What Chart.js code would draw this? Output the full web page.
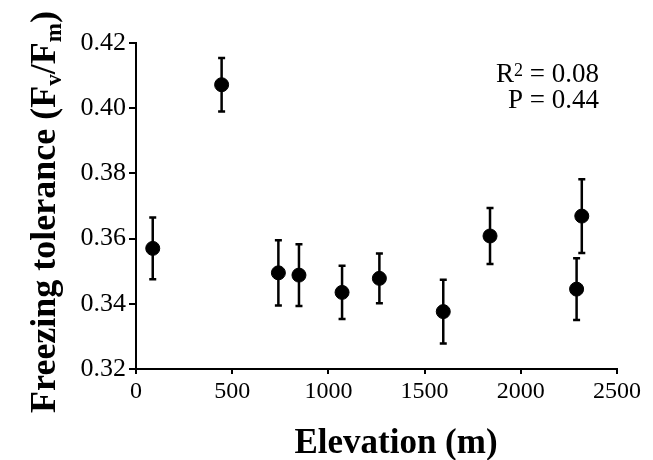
<!DOCTYPE html>
<html>
<head>
<meta charset="utf-8">
<script src="https://cdn.jsdelivr.net/npm/chart.js@4"></script>
<style>
  html, body { margin: 0; padding: 0; background: #fff; }
  #wrap { width: 653px; height: 460px; }
</style>
</head>
<body>
<div id="wrap"><canvas id="FreezeChart" width="653" height="460"></canvas></div>
<script>
// elevation (m), Fv/Fm mean and error (± bar half-length)
const elevation = [87, 445, 740, 847, 1071, 1265, 1597, 1840, 2290, 2317];
const fvfm      = [0.357, 0.4072, 0.3495, 0.3488, 0.3435, 0.3478, 0.3376, 0.3608, 0.3445, 0.3669];
const fvfmErr   = [0.0095, 0.0082, 0.0100, 0.0095, 0.0082, 0.0076, 0.0098, 0.0086, 0.0095, 0.0113];
const xTicks = [0, 500, 1000, 1500, 2000, 2500];
const yTicks = [0.32, 0.34, 0.36, 0.38, 0.40, 0.42];
const statLines = [["R", "2", " = 0.08"], ["P", "", " = 0.44"]];

const serif = "'Liberation Serif', 'Times New Roman', serif";

// error bars drawn from the data arrays through the chart scales
const errorBars = {
    id: "errorBars",
    beforeDatasetsDraw(chart) {
        let ctx = chart.ctx;
        let xs = chart.scales.x, ys = chart.scales.y;
        ctx.save();
        ctx.strokeStyle = "#000";
        ctx.lineWidth = 2.5;
        for (let i = 0; i < elevation.length; i++) {
            let px = xs.getPixelForValue(elevation[i]);
            let top = ys.getPixelForValue(fvfm[i] + fvfmErr[i]);
            let bot = ys.getPixelForValue(fvfm[i] - fvfmErr[i]);
            ctx.beginPath();
            ctx.moveTo(px, top); ctx.lineTo(px, bot);
            ctx.moveTo(px - 3.5, top); ctx.lineTo(px + 3.5, top);
            ctx.moveTo(px - 3.5, bot); ctx.lineTo(px + 3.5, bot);
            ctx.stroke();
        }
        ctx.restore();
    }
};

// axis titles with sub/superscripts and the statistics note
const labels = {
    id: "labels",
    afterDraw(chart) {
        let ctx = chart.ctx;
        ctx.save();
        ctx.fillStyle = "#000";

        // x title
        ctx.font = "bold 35px " + serif;
        ctx.textAlign = "center";
        ctx.textBaseline = "alphabetic";
        ctx.fillText("Elevation (m)", 396, 453);

        // y title, rotated, with subscripts
        let parts = [["Freezing tolerance (F", false], ["v", true], ["/F", false], ["m", true], [")", false]];
        let big = "bold 36px " + serif, small = "bold 23px " + serif;
        let total = 0;
        parts.forEach(p => { ctx.font = p[1] ? small : big; total += ctx.measureText(p[0]).width; });
        ctx.translate(55, 212);
        ctx.rotate(-Math.PI / 2);
        ctx.textAlign = "left";
        let cx = -total / 2;
        parts.forEach(p => {
            ctx.font = p[1] ? small : big;
            ctx.fillText(p[0], cx, p[1] ? 6 : 0);
            cx += ctx.measureText(p[0]).width;
        });
        ctx.setTransform(1, 0, 0, 1, 0, 0);

        // R2 / P note, right aligned
        let right = 599, base = [82, 108];
        let norm = "27px " + serif, sup = "18px " + serif;
        statLines.forEach((ln, k) => {
            ctx.font = norm;
            let w1 = ctx.measureText(ln[0]).width, w3 = ctx.measureText(ln[2]).width;
            ctx.font = sup;
            let w2 = ctx.measureText(ln[1]).width;
            let x = right - w1 - w2 - w3;
            ctx.textAlign = "left";
            ctx.font = norm; ctx.fillText(ln[0], x, base[k]);
            ctx.font = sup; ctx.fillText(ln[1], x + w1, base[k] - 6);
            ctx.font = norm; ctx.fillText(ln[2], x + w1 + w2, base[k]);
        });
        ctx.restore();
    }
};

let freezeCanvas = document.getElementById("FreezeChart").getContext("2d");
let freezeChart = new Chart(freezeCanvas, {
    type: "scatter",
    data: {
        datasets: [{
            label: "Freezing tolerance",
            data: elevation.map((x, i) => ({ x: x, y: fvfm[i] })),
            backgroundColor: "#000",
            borderColor: "#000",
            pointRadius: 7,
            pointHoverRadius: 7
        }]
    },
    options: {
        responsive: false,
        animation: false,
        layout: { padding: { left: 0, top: 43, right: 36, bottom: 0 } },
        plugins: {
            legend: { display: false },
            tooltip: { enabled: false }
        },
        scales: {
            x: {
                type: "linear",
                min: 0, max: 2500,
                afterBuildTicks: s => { s.ticks = xTicks.map(v => ({ value: v })); },
                afterFit: s => { s.height = 91; },
                border: { display: true, color: "#000", width: 2 },
                grid: { display: true, drawOnChartArea: false, tickLength: 5, tickColor: "#000", lineWidth: 2 },
                ticks: { color: "#000", padding: 3, maxRotation: 0, font: { family: serif, size: 24 },
                         callback: v => String(v) }
            },
            y: {
                type: "linear",
                min: 0.32, max: 0.42,
                afterBuildTicks: s => { s.ticks = yTicks.map(v => ({ value: v })); },
                afterFit: s => { s.width = 136; },
                border: { display: true, color: "#000", width: 2 },
                grid: { display: true, drawOnChartArea: false, tickLength: 7, tickColor: "#000", lineWidth: 2 },
                ticks: { color: "#000", padding: 3, font: { family: serif, size: 26 },
                         callback: v => v.toFixed(2) }
            }
        }
    },
    plugins: [errorBars, labels]
});
</script>
</body>
</html>
